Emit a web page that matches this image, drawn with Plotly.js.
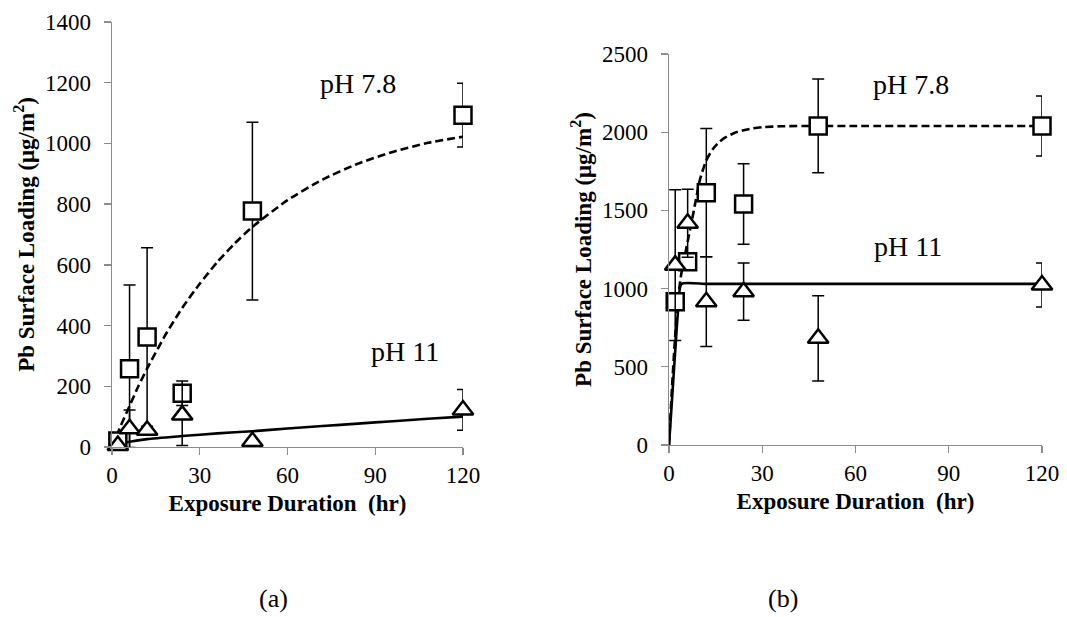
<!DOCTYPE html>
<html>
<head>
<meta charset="utf-8">
<script src="https://cdn.plot.ly/plotly-3.0.1.min.js"></script>
<style>html,body{margin:0;padding:0;background:#fff;}#chart{width:1067px;height:617px;}</style>
</head>
<body>
<div id="chart"></div>
<script>
// ---- Data ----
const hours = [2, 6, 12, 24, 48, 120];

// Panel (a)
const aPH78 = [20, 258, 362, 177, 777, 1093];
const aPH78Err = [0, 276, 294, 40, 293, 105];
const aPH11 = [5, 60, 55, 105, 18, 122];
const aPH11Err = [0, 62, 0, 100, 0, 67];

const aFit78Hrs = [0, 3, 6, 9, 12, 18, 24, 30, 36, 42, 48, 60, 72, 84, 96, 108, 120];
const aFit78 = [0, 70, 135, 200, 258, 365, 458, 538, 609, 671, 725, 813, 881, 933, 972, 1002, 1022];
const aFit11Hrs = [0, 3, 6, 12, 24, 36, 48, 60, 72, 84, 96, 108, 120];
const aFit11 = [0, 10, 17, 26, 36, 45, 52, 61, 69, 77, 85, 93, 100];

// Panel (b)
const bPH78 = [916, 1172, 1613, 1541, 2040, 2040];
const bPH78Err = [0, 0, 410, 257, 300, 192];
const bPH11 = [1150, 1418, 916, 980, 682, 1023];
const bPH11Err = [482, 217, 287, 183, 272, 140];

const bFit78Hrs = [0, 1, 2, 3, 4, 6, 8, 10, 12, 14, 16, 18, 21, 24, 27, 30, 36, 48, 60, 90, 120];
const bFit78 = [0, 380, 700, 950, 1100, 1300, 1500, 1700, 1820, 1890, 1935, 1965, 1995, 2012, 2025, 2032, 2038, 2040, 2040, 2040, 2040];
const bFit11Hrs = [0, 1, 2, 3, 4, 12, 24, 48, 120];
const bFit11 = [0, 300, 600, 880, 1030, 1030, 1030, 1030, 1030];

const xTicks = [0, 30, 60, 90, 120];
const labels = {ph78: 'pH 7.8', ph11: 'pH 11', x: 'Exposure Duration  (hr)', y: 'Pb Surface Loading (μg/m<sup>2</sup>)'};

// ---- Styles ----
const SERIF = "'Liberation Serif', 'Times New Roman', serif";
const axisGray = '#8c8c8c';

function fit(x, y, dash, xa, ya) {
  return {x: x, y: y, xaxis: xa, yaxis: ya, mode: 'lines', type: 'scatter', hoverinfo: 'skip',
    line: {color: '#000', width: 2.6, dash: dash, shape: 'spline', smoothing: 0.6}, showlegend: false};
}
function pts(y, err, symbol, xa, ya) {
  return {x: hours, y: y, xaxis: xa, yaxis: ya, mode: 'markers', type: 'scatter', cliponaxis: false,
    marker: {symbol: symbol, size: symbol === 'square' ? 17 : 18, color: '#fff', line: {color: '#000', width: 2.5}},
    error_y: {type: 'data', array: err, visible: true, color: '#000', thickness: 1.5, width: 6},
    showlegend: false};
}

const traces = [
  fit(aFit78Hrs, aFit78, '8px,4px', 'x', 'y'),
  fit(aFit11Hrs, aFit11, 'solid', 'x', 'y'),
  pts(aPH78, aPH78Err, 'square', 'x', 'y'),
  pts(aPH11, aPH11Err, 'triangle-up', 'x', 'y'),
  fit(bFit78Hrs, bFit78, '8px,4px', 'x2', 'y2'),
  fit(bFit11Hrs, bFit11, 'solid', 'x2', 'y2'),
  pts(bPH78, bPH78Err, 'square', 'x2', 'y2'),
  pts(bPH11, bPH11Err, 'triangle-up', 'x2', 'y2')
];

function xax(domain, anchor) {
  return {domain: domain, anchor: anchor, range: [0, 120], tickvals: xTicks, ticks: 'outside', ticklen: 7,
    tickwidth: 1.3, tickcolor: axisGray, showline: true, linecolor: axisGray, linewidth: 1.4,
    showgrid: false, zeroline: false, tickfont: {family: SERIF, size: 23, color: '#000'},
    title: {text: '<b>' + labels.x + '</b>', font: {family: SERIF, size: 23, color: '#000'}, standoff: 8},
    automargin: false, fixedrange: true};
}
function yax(domain, anchor, max, dtick) {
  return {domain: domain, anchor: anchor, range: [0, max], dtick: dtick, ticks: 'outside', ticklen: 7,
    tickwidth: 1.3, tickcolor: axisGray, showline: true, linecolor: axisGray, linewidth: 1.4,
    showgrid: false, zeroline: false, tickfont: {family: SERIF, size: 23, color: '#000'},
    ticklabelstandoff: 8,
    title: {text: '<b>' + labels.y + '</b>', font: {family: SERIF, size: 23, color: '#000'}, standoff: 4},
    automargin: false, fixedrange: true};
}

function note(xref, yref, x, y, text, size) {
  return {xref: xref, yref: yref, x: x, y: y, text: text, showarrow: false,
    xanchor: 'center', yanchor: 'middle', font: {family: SERIF, size: size, color: '#000'}};
}

const layout = {
  width: 1067, height: 617,
  margin: {l: 0, r: 0, t: 0, b: 0},
  paper_bgcolor: '#fff', plot_bgcolor: '#fff',
  showlegend: false,
  xaxis: xax([112/1067, 463/1067], 'y'),
  yaxis: yax([1 - 447/617, 1 - 22/617], 'x', 1400, 200),
  xaxis2: xax([669/1067, 1042/1067], 'y2'),
  yaxis2: yax([1 - 445/617, 1 - 54/617], 'x2', 2500, 500),
  annotations: [
    note('x', 'y', 84, 1199, labels.ph78, 28),
    note('x', 'y', 100, 313, labels.ph11, 28),
    note('x2', 'y2', 78, 2302, labels.ph78, 28),
    note('x2', 'y2', 77, 1272, labels.ph11, 28),
    note('paper', 'paper', 273/1067, 1 - 598/617, '(a)', 26),
    note('paper', 'paper', 783/1067, 1 - 598/617, '(b)', 26)
  ]
};

Plotly.newPlot('chart', traces, layout, {staticPlot: true, displayModeBar: false});
</script>
</body>
</html>
